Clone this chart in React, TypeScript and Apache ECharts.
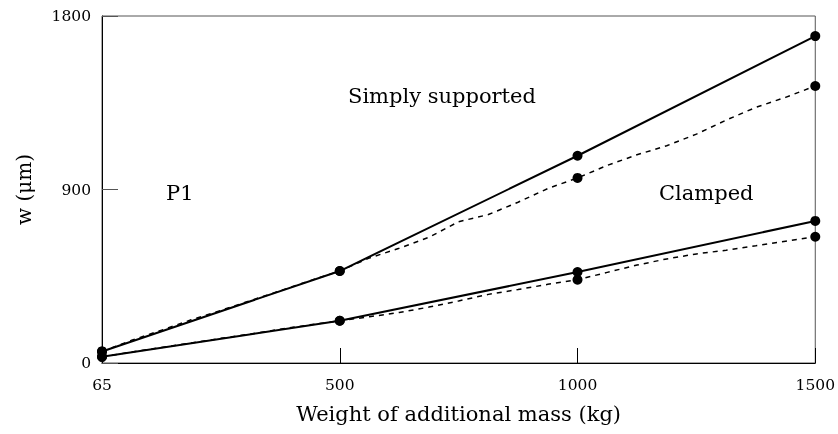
import React, { useEffect, useRef } from "react";
import * as echarts from "echarts";

// x categories: 8 equal sub-steps between the labelled masses (kg)
const massCategories = [
  "65", "119", "174", "228", "283", "337", "391", "446", "500",
  "563", "625", "688", "750", "813", "875", "938", "1000",
  "1063", "1125", "1188", "1250", "1313", "1375", "1438", "1500",
];
const tickLabels = ["65", "500", "1000", "1500"];

// Deflection w (µm)
const simplySolid = [60, null, null, null, null, null, null, null, 477,
  null, null, null, null, null, null, null, 1075,
  null, null, null, null, null, null, null, 1696];
const simplyDashed = [60, 118, 170, 224, 273, 324, 375, 427, 477,
  545, 595, 652, 733, 770, 834, 905, 960,
  1025, 1080, 1127, 1187, 1260, 1326, 1378, 1437];
const clampedSolid = [32, null, null, null, null, null, null, null, 219,
  null, null, null, null, null, null, null, 472,
  null, null, null, null, null, null, null, 737];
const clampedDashed = [32, 57, 81, 104, 128, 151, 175, 198, 219,
  240, 262, 290, 322, 356, 381, 408, 432,
  470, 508, 540, 566, 585, 608, 632, 655];

const FONT = "DejaVu Serif";

function dashedData(arr: number[]) {
  return arr.map((v, i) =>
    i % 8 === 0 ? { value: v, symbol: "circle", symbolSize: 10 } : { value: v, symbol: "none" }
  );
}

export default function App() {
  const ref = useRef<HTMLDivElement>(null);
  useEffect(() => {
    if (!ref.current) return;
    const chart = echarts.init(ref.current, null, { renderer: "svg" });
    const showIdx = (i: number) => i % 8 === 0;
    chart.setOption({
      animation: false,
      textStyle: { fontFamily: FONT },
      grid: {
        left: 102, right: 22, top: 16, bottom: 71,
        show: true, borderColor: "#555", borderWidth: 1, backgroundColor: "transparent",
      },
      xAxis: {
        type: "category",
        data: massCategories,
        boundaryGap: false,
        axisLine: { lineStyle: { color: "#000", width: 1 } },
        axisTick: { inside: true, length: 15, interval: (i: number) => showIdx(i), lineStyle: { color: "#000" } },
        axisLabel: {
          interval: (i: number) => showIdx(i),
          color: "#000", fontFamily: FONT, fontSize: 15.5, margin: 14,
          formatter: (v: string) => (tickLabels.includes(v) ? v : ""),
        },
        name: "Weight of additional mass (kg)",
        nameLocation: "middle",
        nameGap: 40,
        nameTextStyle: { color: "#000", fontFamily: FONT, fontSize: 21 },
        splitLine: { show: false },
      },
      yAxis: {
        type: "value",
        min: 0, max: 1800, interval: 900,
        axisLine: { show: true, lineStyle: { color: "#000", width: 1 } },
        axisTick: { show: true, inside: true, length: 16, lineStyle: { color: "#555" } },
        axisLabel: { color: "#000", fontFamily: FONT, fontSize: 15.5, margin: 11, formatter: (v: number) => String(v) },
        splitLine: { show: false },
        name: "w (μm)",
        nameLocation: "middle",
        nameGap: 68,
        nameTextStyle: { color: "#000", fontFamily: FONT, fontSize: 20 },
      },
      series: [
        {
          type: "line", data: dashedData(simplyDashed), showAllSymbol: true,
          lineStyle: { color: "#000", width: 1.5, type: [5, 5] },
          itemStyle: { color: "#000" }, z: 2,
        },
        {
          type: "line", data: dashedData(clampedDashed), showAllSymbol: true,
          lineStyle: { color: "#000", width: 1.5, type: [5, 5] },
          itemStyle: { color: "#000" }, z: 2,
        },
        {
          type: "line", data: simplySolid, connectNulls: true, symbol: "circle", symbolSize: 10,
          showAllSymbol: true,
          lineStyle: { color: "#000", width: 2 }, itemStyle: { color: "#000" }, z: 3,
        },
        {
          type: "line", data: clampedSolid, connectNulls: true, symbol: "circle", symbolSize: 10,
          showAllSymbol: true,
          lineStyle: { color: "#000", width: 2 }, itemStyle: { color: "#000" }, z: 3,
        },
      ],
      graphic: [
        { type: "text", left: 348, top: 85, style: { text: "Simply supported", fill: "#000", font: `21px '${FONT}'` } },
        { type: "text", left: 166, top: 182, style: { text: "P1", fill: "#000", font: `21px '${FONT}'` } },
        { type: "text", left: 659, top: 182, style: { text: "Clamped", fill: "#000", font: `21px '${FONT}'` } },
      ],
    });
    return () => chart.dispose();
  }, []);
  return <div ref={ref} style={{ position: "fixed", left: 0, top: 0, width: 838, height: 434 }} />;
}
